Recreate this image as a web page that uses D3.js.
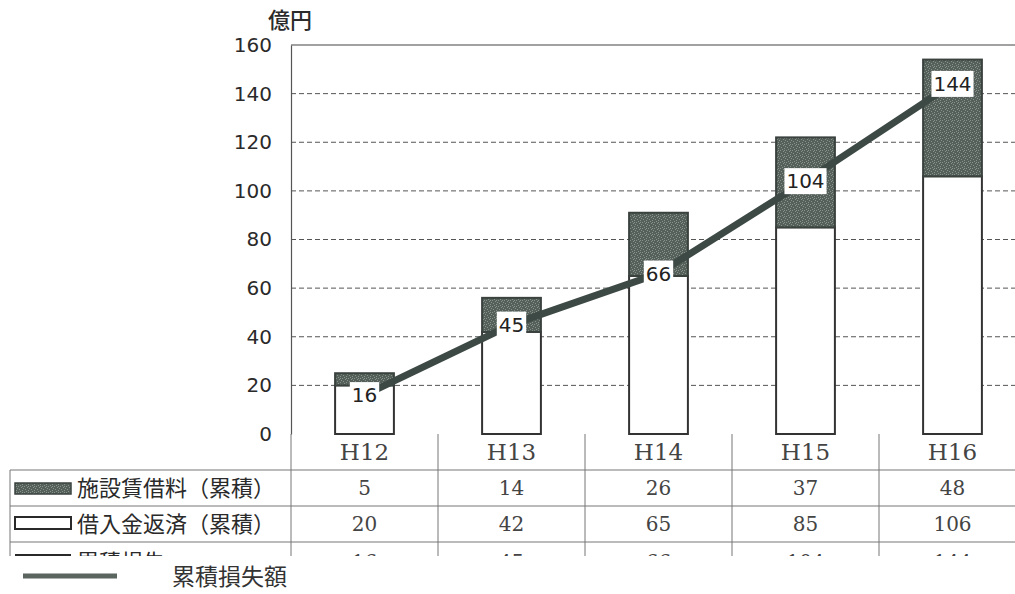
<!DOCTYPE html>
<html>
<head>
<meta charset="utf-8">
<script src="https://cdn.jsdelivr.net/npm/d3@7/dist/d3.min.js"></script>
<style>
  html, body { margin: 0; padding: 0; background: #fff; overflow: hidden; }
  svg { display: block; }
</style>
</head>
<body>
<svg id="chart" width="1015" height="594"></svg>
<script>
// 年度
const years = ["H12", "H13", "H14", "H15", "H16"];
// 借入金返済（累積）, 億円
const loanRepay = [20, 42, 65, 85, 106];
// 施設賃借料（累積）, 億円
const facilityRent = [5, 14, 26, 37, 48];
// 累積損失額, 億円
const cumLoss = [16, 45, 66, 104, 144];
// y軸目盛
const yTicks = [0, 20, 40, 60, 80, 100, 120, 140, 160];

const seriesNames = ["施設賃借料（累積）", "借入金返済（累積）", "累積損失"];

const svg = d3.select("#chart");
const plotLeft = 291, plotRight = 1026, plotTop = 45, plotBottom = 434;

const x = d3.scaleBand().domain(years).range([plotLeft, plotRight]).paddingInner(0.6).paddingOuter(0.3);
const xBand = d3.scaleBand().domain(years).range([plotLeft, plotRight]).padding(0);
const y = d3.scaleLinear().domain([0, 160]).range([plotBottom, plotTop]);

// stipple texture for the rent segment
const defs = svg.append("defs");
const pat = defs.append("pattern").attr("id", "stipple")
  .attr("patternUnits", "userSpaceOnUse").attr("width", 6).attr("height", 6);
pat.append("rect").attr("width", 6).attr("height", 6).attr("fill", "#56605b");
[[0,0],[3,1],[1,3],[4,4],[2,5],[5,2],[4,0]].forEach(([px, py]) =>
  pat.append("rect").attr("x", px).attr("y", py).attr("width", 1).attr("height", 1).attr("fill", "#89938e"));
defs.append("clipPath").attr("id", "tableClip")
  .append("rect").attr("x", 0).attr("y", 0).attr("width", 1015).attr("height", 556);

// y axis unit
svg.append("text").attr("x", 268).attr("y", 28)
  .attr("font-family", "Noto Sans CJK JP").attr("font-size", 22).attr("font-weight", 500)
  .attr("fill", "#2b2b2b").text("億円");

// gridlines
svg.append("g").selectAll("line").data(yTicks.filter(t => t > 0 && t < 160)).join("line")
  .attr("x1", plotLeft).attr("x2", plotRight).attr("y1", d => y(d)).attr("y2", d => y(d))
  .attr("stroke", "#555").attr("stroke-width", 1).attr("stroke-dasharray", "5,3");

// frame: top border and axis
svg.append("line").attr("x1", plotLeft).attr("x2", plotRight).attr("y1", y(160)).attr("y2", y(160))
  .attr("stroke", "#444").attr("stroke-width", 1.2);

const yAxis = d3.axisLeft(y).tickValues(yTicks).tickSize(0).tickPadding(19);
const gy = svg.append("g").attr("transform", `translate(${plotLeft},0)`).call(yAxis);
gy.select(".domain").attr("stroke", "#555").attr("stroke-width", 1.2);
gy.selectAll("text").attr("font-family", "DejaVu Sans").attr("font-size", 20).attr("fill", "#2a2a2a");

// stacked bars
const bars = svg.append("g");
bars.selectAll("rect.loan").data(years).join("rect").attr("class", "loan")
  .attr("x", d => x(d)).attr("width", x.bandwidth())
  .attr("y", (d, i) => y(loanRepay[i])).attr("height", (d, i) => y(0) - y(loanRepay[i]))
  .attr("fill", "#fff").attr("stroke", "#333").attr("stroke-width", 2);
bars.selectAll("rect.rent").data(years).join("rect").attr("class", "rent")
  .attr("x", d => x(d)).attr("width", x.bandwidth())
  .attr("y", (d, i) => y(loanRepay[i] + facilityRent[i]))
  .attr("height", (d, i) => y(loanRepay[i]) - y(loanRepay[i] + facilityRent[i]))
  .attr("fill", "url(#stipple)").attr("stroke", "#3a423e").attr("stroke-width", 2);

// cumulative loss line
const cx = d => x(d) + x.bandwidth() / 2;
svg.append("path").datum(years)
  .attr("d", d3.line().x(d => cx(d)).y((d, i) => y(cumLoss[i])))
  .attr("fill", "none").attr("stroke", "#3d4944").attr("stroke-width", 7);

// value labels
const lab = svg.append("g").selectAll("g").data(years).join("g")
  .attr("transform", (d, i) => `translate(${cx(d)},${y(cumLoss[i])})`);
lab.append("rect")
  .attr("x", (d, i) => -(String(cumLoss[i]).length * 12.7 + 4) / 2)
  .attr("width", (d, i) => String(cumLoss[i]).length * 12.7 + 4)
  .attr("y", -13).attr("height", 26).attr("fill", "#fff");
lab.append("text").attr("text-anchor", "middle").attr("dy", "0.36em")
  .attr("font-family", "DejaVu Sans").attr("font-size", 20).attr("fill", "#222")
  .text((d, i) => cumLoss[i]);

// data table
const table = svg.append("g").attr("clip-path", "url(#tableClip)");
const rowTop = [470, 506, 542];
const rowH = 36;
const gridC = "#777";
// header row
table.selectAll("text.hdr").data(years).join("text").attr("class", "hdr")
  .attr("x", d => xBand(d) + xBand.bandwidth() / 2).attr("y", 452).attr("dy", "0.36em")
  .attr("text-anchor", "middle").attr("font-family", "DejaVu Serif").attr("font-size", 23)
  .attr("fill", "#444").text(d => d);
// horizontal rules
table.selectAll("line.h").data(rowTop).join("line").attr("class", "h")
  .attr("x1", 10).attr("x2", plotRight).attr("y1", d => d).attr("y2", d => d)
  .attr("stroke", gridC).attr("stroke-width", 1);
// vertical rules
const vx = [plotLeft].concat(years.slice(1).map(d => xBand(d)));
table.selectAll("line.v").data(vx).join("line").attr("class", "v")
  .attr("x1", d => d).attr("x2", d => d).attr("y1", plotBottom).attr("y2", 600)
  .attr("stroke", gridC).attr("stroke-width", 1);
table.append("line").attr("x1", 10).attr("x2", 10).attr("y1", rowTop[0]).attr("y2", 600)
  .attr("stroke", gridC).attr("stroke-width", 1);

const rows = [facilityRent, loanRepay, cumLoss];
rows.forEach((vals, r) => {
  const cy = rowTop[r] + rowH / 2 + (r === 2 ? 2 : 0);
  table.selectAll(`text.v${r}`).data(years).join("text").attr("class", `v${r}`)
    .attr("x", d => xBand(d) + xBand.bandwidth() / 2).attr("y", cy).attr("dy", "0.36em")
    .attr("text-anchor", "middle").attr("font-family", "DejaVu Serif").attr("font-size", 20)
    .attr("fill", "#444").text((d, i) => vals[i]);
  table.append("text").attr("x", 77).attr("y", cy).attr("dy", "0.36em")
    .attr("font-family", "Noto Sans CJK JP").attr("font-size", 22).attr("fill", "#2a2a2a")
    .text(seriesNames[r]);
});
// legend keys inside the table
table.append("rect").attr("x", 15).attr("y", 483).attr("width", 56).attr("height", 11)
  .attr("fill", "url(#stipple)").attr("stroke", "#3a423e").attr("stroke-width", 1.5);
table.append("rect").attr("x", 15).attr("y", 517).attr("width", 56).attr("height", 12)
  .attr("fill", "#fff").attr("stroke", "#2a2a2a").attr("stroke-width", 2);
table.append("line").attr("x1", 15).attr("x2", 71).attr("y1", 555).attr("y2", 555)
  .attr("stroke", "#2a2a2a").attr("stroke-width", 2);

// separate legend entry for the line
svg.append("line").attr("x1", 23).attr("x2", 117).attr("y1", 576).attr("y2", 576)
  .attr("stroke", "#5a6560").attr("stroke-width", 5);
svg.append("text").attr("x", 172).attr("y", 577).attr("dy", "0.36em")
  .attr("font-family", "Noto Sans CJK JP").attr("font-size", 23).attr("fill", "#333")
  .text("累積損失額");
</script>
</body>
</html>
